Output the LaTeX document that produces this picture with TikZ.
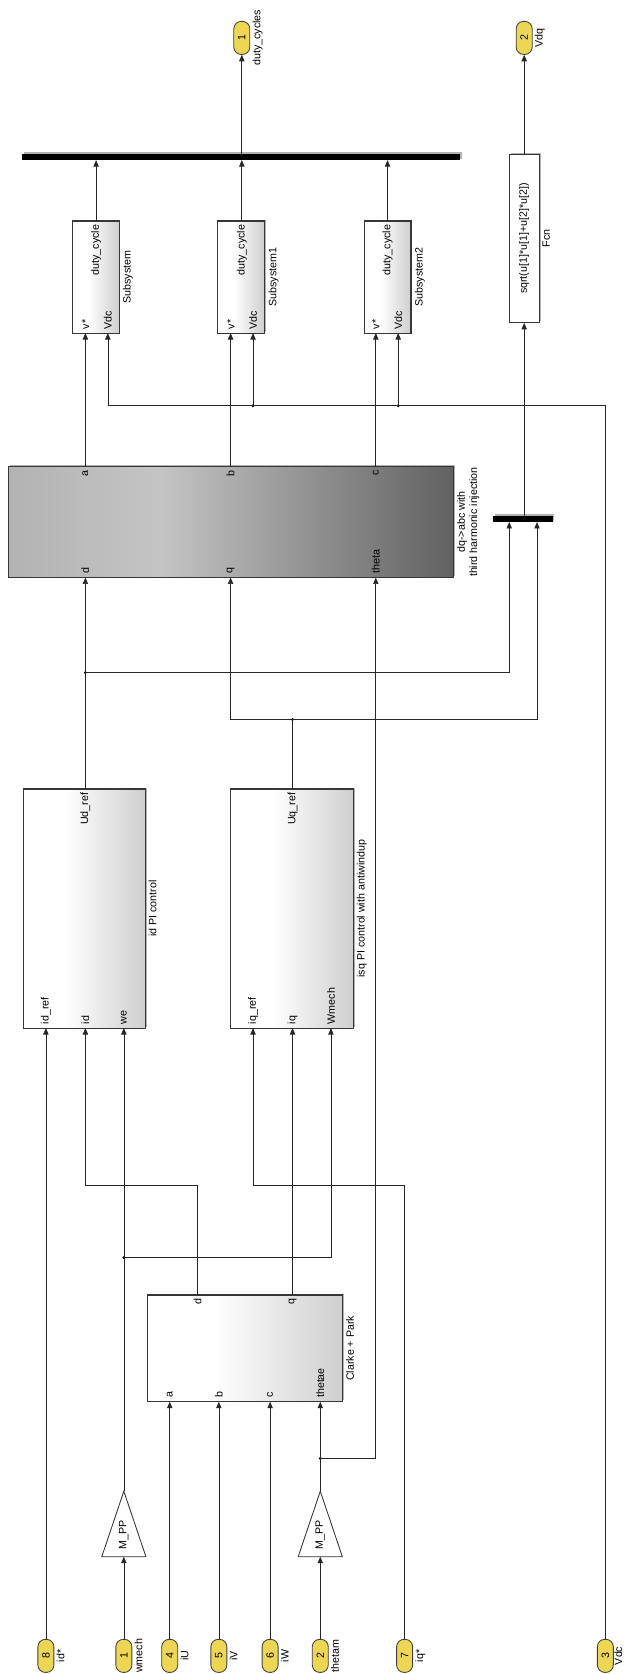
\documentclass[tikz,border=0pt]{standalone}
\usepackage{fontspec}
\setmainfont{Liberation Sans}
\usetikzlibrary{arrows.meta,shadows}
\definecolor{simyellow}{RGB}{236,214,84}
\definecolor{blkborder}{RGB}{55,55,55}
\pgfdeclarehorizontalshading{blkshade}{100bp}{color(0bp)=(white); color(25bp)=(white); color(42bp)=(white); color(75bp)=(black!19); color(100bp)=(black!19)}
\pgfdeclarehorizontalshading{dqshade}{100bp}{color(0bp)=(black!30); color(25bp)=(black!30); color(42bp)=(black!23); color(75bp)=(black!62); color(100bp)=(black!62)}
\begin{document}
\begin{tikzpicture}[x=1pt,y=-1pt,
  font=\fontsize{10}{11.5}\selectfont,
  wire/.style={draw=black!85, line width=0.6pt},
  arr/.style={wire, -{Triangle[length=6pt,width=5pt]}},
  shd/.style={drop shadow={shadow xshift=1.3pt, shadow yshift=1.3pt, opacity=0.3, fill=black}},
  blk/.style={draw=blkborder, line width=1pt, shade, shading=blkshade, inner sep=0, shd},
  dqblk/.style={draw=blkborder, line width=1pt, shade, shading=dqshade, inner sep=0, shd},
  barblk/.style={fill=black, inner sep=0, shd},
  portov/.style={draw=black!75, line width=0.8pt, fill=simyellow, rounded corners=7pt, minimum width=31pt, minimum height=15pt, inner sep=0, rotate=90},
  plbl/.style={rotate=90, inner sep=1.5pt},
  lbl/.style={rotate=90, inner sep=2pt},
  jdot/.style={circle, fill=black, inner sep=0, minimum size=3pt}]
\useasboundingbox (0,0) rectangle (584,1568);

% ---------- inports ----------
\node[portov] (in8) at (43,1551) {8};
\node[portov] (in1) at (116,1551) {1};
\node[portov] (in4) at (159,1551) {4};
\node[portov] (in5) at (205,1551) {5};
\node[portov] (in6) at (253,1551) {6};
\node[portov] (in2) at (300,1551) {2};
\node[portov] (in7) at (379,1551) {7};
\node[portov] (in3) at (567,1551) {3};
\node[lbl, anchor=north] at (in8.south) {id*};
\node[lbl, anchor=north] at (in1.south) {wmech};
\node[lbl, anchor=north] at (in4.south) {iU};
\node[lbl, anchor=north] at (in5.south) {iV};
\node[lbl, anchor=north] at (in6.south) {iW};
\node[lbl, anchor=north] at (in2.south) {thetam};
\node[lbl, anchor=north] at (in7.south) {iq*};
\node[lbl, anchor=north, inner sep=0.4pt] at (in3.south) {Vdc};

% ---------- gains ----------
\node[inner sep=0, minimum width=41pt, minimum height=61pt] (g1) at (116,1427.5) {};
\node[inner sep=0, minimum width=41pt, minimum height=61pt] (g2) at (300,1427.5) {};
\draw[draw=black!80, line width=0.8pt, fill=white] (g1.south west) -- (g1.south east) -- (g1.north) -- cycle;
\draw[draw=black!80, line width=0.8pt, fill=white] (g2.south west) -- (g2.south east) -- (g2.north) -- cycle;
\node[plbl] at (116,1438) {M\_PP};
\node[plbl] at (300,1438) {M\_PP};

% ---------- Clarke + Park ----------
\node[blk, minimum width=183pt, minimum height=100pt] (cp) at (229.5,1263) {};
\coordinate (cp-a) at (159,1313);
\coordinate (cp-b) at (205,1313);
\coordinate (cp-c) at (253,1313);
\coordinate (cp-th) at (300,1313);
\coordinate (cp-d) at (185,1213);
\coordinate (cp-q) at (274,1213);
\node[plbl, anchor=west] at (159,1311) {a};
\node[plbl, anchor=west] at (205,1311) {b};
\node[plbl, anchor=west] at (253,1311) {c};
\node[plbl, anchor=west] at (300,1311) {thetae};
\node[plbl, anchor=east] at (185,1215) {d};
\node[plbl, anchor=east] at (274,1215) {q};
\node[lbl, anchor=north] at (322,1263) {Clarke + Park};

% ---------- id PI ----------
\node[blk, minimum width=114pt, minimum height=224pt] (idpi) at (79,851) {};
\coordinate (idpi-ref) at (43,963);
\coordinate (idpi-id) at (80,963);
\coordinate (idpi-we) at (116,963);
\coordinate (idpi-out) at (80,739);
\node[plbl, anchor=west] at (43,961) {id\_ref};
\node[plbl, anchor=west] at (80,961) {id};
\node[plbl, anchor=west] at (116,961) {we};
\node[plbl, anchor=east] at (80,741) {Ud\_ref};
\node[lbl, anchor=north] at (137,851) {id PI control};

% ---------- isq PI ----------
\node[blk, minimum width=115pt, minimum height=224pt] (iqpi) at (273.5,851) {};
\coordinate (iqpi-ref) at (237,963);
\coordinate (iqpi-iq) at (274,963);
\coordinate (iqpi-w) at (310,963);
\coordinate (iqpi-out) at (274,739);
\node[plbl, anchor=west] at (237,961) {iq\_ref};
\node[plbl, anchor=west] at (274,961) {iq};
\node[plbl, anchor=west] at (310,961) {Wmech};
\node[plbl, anchor=east] at (274,741) {Uq\_ref};
\node[lbl, anchor=north] at (332,851) {isq PI control with antiwindup};

% ---------- dq->abc ----------
\node[dqblk, minimum width=417pt, minimum height=104pt] (dq) at (216.5,489) {};
\coordinate (dq-d) at (80,541);
\coordinate (dq-q) at (216,541);
\coordinate (dq-th) at (352,541);
\coordinate (dq-a) at (80,437);
\coordinate (dq-b) at (216,437);
\coordinate (dq-c) at (352,437);
\node[plbl, anchor=west] at (80,539) {d};
\node[plbl, anchor=west] at (216,539) {q};
\node[plbl, anchor=west] at (352,539) {theta};
\node[plbl, anchor=east] at (80,439) {a};
\node[plbl, anchor=east] at (216,439) {b};
\node[plbl, anchor=east] at (352,439) {c};
\node[lbl, anchor=north, align=center] at (426,489) {dq->abc with\\third harmonic injection};

% ---------- mux ----------
\node[barblk, minimum width=56pt, minimum height=6pt] (mux) at (490,486) {};
\coordinate (mux-1) at (477,489);
\coordinate (mux-2) at (503,489);
\coordinate (mux-o) at (491,483);

% ---------- subsystems ----------
\node[blk, minimum width=44pt, minimum height=105pt] (s0) at (89.5,259.5) {};
\node[blk, minimum width=44pt, minimum height=105pt] (s1) at (226,259.5) {};
\node[blk, minimum width=44pt, minimum height=105pt] (s2) at (363,259.5) {};
\coordinate (s0-v) at (80,312);
\coordinate (s0-dc) at (101,312);
\coordinate (s0-o) at (90,207);
\coordinate (s1-v) at (216,312);
\coordinate (s1-dc) at (237,312);
\coordinate (s1-o) at (226.5,207);
\coordinate (s2-v) at (352,312);
\coordinate (s2-dc) at (373,312);
\coordinate (s2-o) at (363,207);
\node[plbl, anchor=west] at (80,310) {v*};
\node[plbl, anchor=west] at (101,310) {Vdc};
\node[plbl, anchor=east] at (90,209) {duty\_cycle};
\node[plbl, anchor=west] at (216,310) {v*};
\node[plbl, anchor=west] at (237,310) {Vdc};
\node[plbl, anchor=east] at (226.5,209) {duty\_cycle};
\node[plbl, anchor=west] at (352,310) {v*};
\node[plbl, anchor=west] at (373,310) {Vdc};
\node[plbl, anchor=east] at (363,209) {duty\_cycle};
\node[lbl, anchor=north] at (113,259.5) {Subsystem};
\node[lbl, anchor=north] at (249.5,259.5) {Subsystem1};
\node[lbl, anchor=north] at (386.5,259.5) {Subsystem2};

% ---------- bus ----------
\node[barblk, minimum width=410pt, minimum height=6pt] (bus) at (226,147) {};
\coordinate (bus-1) at (90,150);
\coordinate (bus-2) at (226.5,150);
\coordinate (bus-3) at (363,150);
\coordinate (bus-o) at (226.5,144);

% ---------- Fcn ----------
\node[draw=blkborder, line width=0.9pt, fill=white, rotate=90, minimum width=157pt, minimum height=28pt, inner sep=0, shd] (fcn) at (491,223.5) {sqrt(u[1]*u[1]+u[2]*u[2])};
\node[lbl, anchor=north] at (506,223.5) {Fcn};

% ---------- outports ----------
\node[portov] (out1) at (226.5,35.5) {1};
\node[portov] (out2) at (491,35.5) {2};
\node[lbl, anchor=north] at (out1.south) {duty\_cycles};
\node[lbl, anchor=north] at (out2.south) {Vdq};

% ---------- junctions ----------
\node[jdot] (jw) at (116,1178) {};
\node[jdot] (jth) at (300,1366) {};
\node[jdot] (jd) at (80,630) {};
\node[jdot] (jq) at (274,674) {};
\node[jdot] (jv1) at (237,380) {};
\node[jdot] (jv2) at (373,380) {};

% ---------- connectors ----------
\draw[arr] (in8.east) -- (idpi-ref);
\draw[arr] (in1.east) -- (g1.south);
\draw[wire] (g1.north) -- (jw.center);
\draw[arr] (jw.center) -- (idpi-we);
\draw[arr] (jw.center) -- (310,1178) -- (iqpi-w);
\draw[arr] (in4.east) -- (cp-a);
\draw[arr] (in5.east) -- (cp-b);
\draw[arr] (in6.east) -- (cp-c);
\draw[arr] (in2.east) -- (g2.south);
\draw[wire] (g2.north) -- (jth.center);
\draw[arr] (jth.center) -- (cp-th);
\draw[arr] (jth.center) -- (352,1366) -- (dq-th);
\draw[arr] (cp-d) -- (185,1110) -- (80,1110) -- (idpi-id);
\draw[arr] (cp-q) -- (iqpi-iq);
\draw[arr] (in7.east) -- (379,1110) -- (237,1110) -- (iqpi-ref);
\draw[wire] (idpi-out) -- (jd.center);
\draw[arr] (jd.center) -- (dq-d);
\draw[arr] (jd.center) -- (477,630) -- (mux-1);
\draw[wire] (iqpi-out) -- (jq.center);
\draw[arr] (jq.center) -- (216,674) -- (dq-q);
\draw[arr] (jq.center) -- (503,674) -- (mux-2);
\draw[arr] (dq-a) -- (s0-v);
\draw[arr] (dq-b) -- (s1-v);
\draw[arr] (dq-c) -- (s2-v);
\draw[wire] (in3.east) -- (567,380) -- (jv2.center);
\draw[wire] (jv2.center) -- (jv1.center);
\draw[arr] (jv1.center) -- (101,380) -- (s0-dc);
\draw[arr] (jv1.center) -- (s1-dc);
\draw[arr] (jv2.center) -- (s2-dc);
\draw[arr] (s0-o) -- (bus-1);
\draw[arr] (s1-o) -- (bus-2);
\draw[arr] (s2-o) -- (bus-3);
\draw[arr] (bus-o) -- (out1.west);
\draw[arr] (mux-o) -- (fcn.west);
\draw[arr] (fcn.east) -- (out2.west);
\end{tikzpicture}
\end{document}
